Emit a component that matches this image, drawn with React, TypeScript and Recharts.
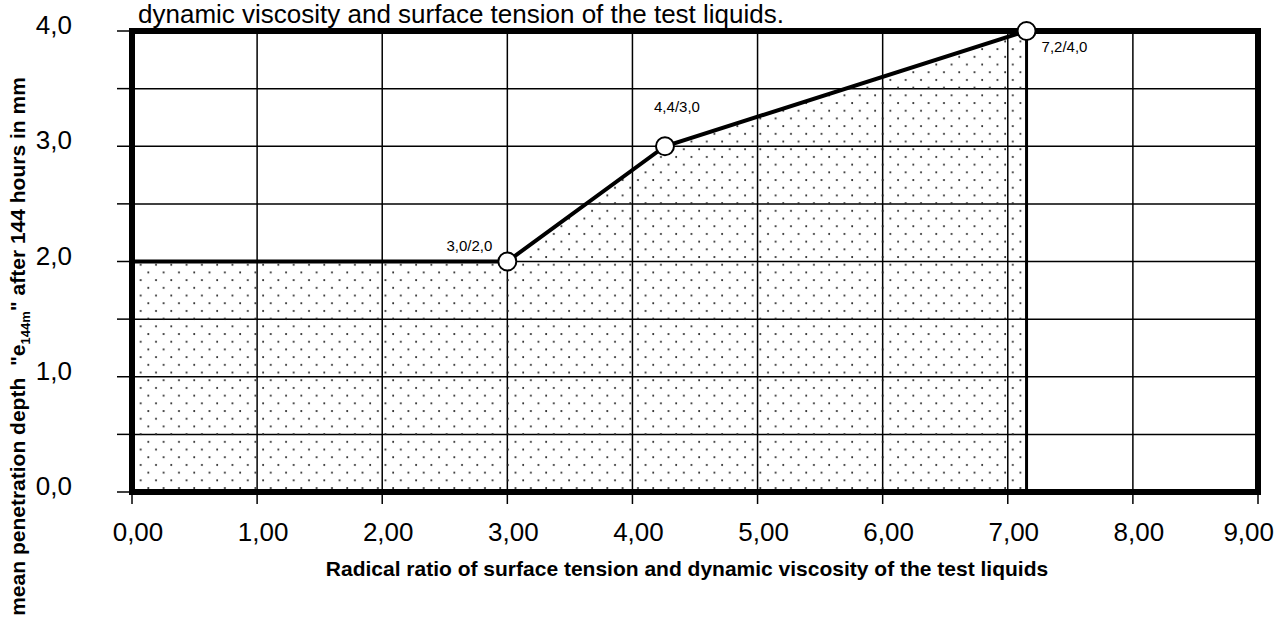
import React from "react";
import {
  ComposedChart,
  Area,
  Line,
  XAxis,
  YAxis,
  CartesianGrid,
  ReferenceArea,
  ReferenceLine,
  LabelList,
  Label,
} from "recharts";

// measured points (x = radical ratio, y = penetration depth in mm)
const ratio = [0, 3.0, 4.26, 7.15];
const depth = [2.0, 2.0, 3.0, 4.0];
const pointLabels = ["", "3,0/2,0", "4,4/3,0", "7,2/4,0"];
const cutoff = 7.15;

const xTicks = [0, 1, 2, 3, 4, 5, 6, 7, 8, 9];
const yTicks = [0, 0.5, 1, 1.5, 2, 2.5, 3, 3.5, 4];

const data = ratio.map((x, i) => ({ x, y: depth[i], label: pointLabels[i] }));

const FONT = '"Liberation Sans", Arial, Helvetica, sans-serif';
// label nudges relative to each marker
const labelOffsets = [
  [0, 0],
  [-38, -16],
  [12, -39],
  [38, 16],
];

const comma = (v: number, d: number) => v.toFixed(d).replace(".", ",");

const XTick = (props: any) => {
  const { x, y, payload, index } = props;
  const last = index === xTicks.length - 1;
  return (
    <text
      x={last ? x + 16 : x + 6}
      y={y}
      dy={35}
      textAnchor={last ? "end" : "middle"}
      fontSize={26}
      fontFamily={FONT}
      fill="#000"
    >
      {comma(payload.value, 2)}
    </text>
  );
};

const YTick = (props: any) => {
  const { x, y, payload } = props;
  if (payload.value % 1 !== 0) return <g />;
  return (
    <text x={x} y={y} dy={3} textAnchor="end" fontSize={26} fontFamily={FONT} fill="#000">
      {comma(payload.value, 1)}
    </text>
  );
};

const YTitle = (props: any) => {
  const { viewBox } = props;
  const cx = viewBox.x + 25;
  const cy = viewBox.y + viewBox.height / 2 + 85;
  return (
    <text
      x={cx}
      y={cy}
      transform={`rotate(-90 ${cx} ${cy})`}
      textAnchor="middle"
      fontSize={21}
      fontWeight="bold"
      fontFamily={FONT}
      fill="#000"
      style={{ whiteSpace: "pre" }}
    >
      <tspan>{'mean penetration depth  "e'}</tspan>
      <tspan fontSize={13} dy={5}>
        144m
      </tspan>
      <tspan dy={-5}>{'" after 144 hours in mm'}</tspan>
    </text>
  );
};

const XTitle = (props: any) => {
  const { viewBox } = props;
  return (
    <text
      x={viewBox.x + viewBox.width / 2 - 8}
      y={viewBox.y + 84}
      textAnchor="middle"
      fontSize={21}
      fontWeight="bold"
      fontFamily={FONT}
      fill="#000"
    >
      Radical ratio of surface tension and dynamic viscosity of the test liquids
    </text>
  );
};

const PointLabel = (props: any) => {
  const { x, y, index, value } = props;
  if (!value) return <g />;
  const [dx, dy] = labelOffsets[index];
  return (
    <text x={x + dx} y={y + dy + 5} textAnchor="middle" fontSize={15} fontFamily={FONT} fill="#000">
      {value}
    </text>
  );
};

const Marker = (props: any) => {
  const { cx, cy, index } = props;
  if (index === 0) return <g key={index} />;
  return <circle key={index} cx={cx} cy={cy} r={9} fill="#fff" stroke="#000" strokeWidth={2} />;
};

export default function App() {
  return (
    <div style={{ position: "absolute", left: 0, top: 0, width: 1278, height: 618 }}>
      <div
        style={{
          position: "absolute",
          left: 138,
          top: 1,
          fontFamily: FONT,
          fontSize: 26,
          lineHeight: "26px",
          whiteSpace: "nowrap",
        }}
      >
        dynamic viscosity and surface tension of the test liquids.
      </div>
      <ComposedChart
        width={1278}
        height={618}
        data={data}
        margin={{ top: 31, right: 20, bottom: 26, left: 0 }}
      >
        <defs>
          <pattern id="dots" patternUnits="userSpaceOnUse" width={15.3} height={15.4}>
            <circle cx={3} cy={3} r={1} fill="#222" />
            <circle cx={10.65} cy={10.7} r={1} fill="#222" />
          </pattern>
        </defs>
        <CartesianGrid stroke="#000" strokeWidth={1.5} />
        <XAxis
          type="number"
          dataKey="x"
          domain={[0, 9]}
          ticks={xTicks}
          interval={0}
          height={100}
          tickSize={12}
          tickMargin={2}
          axisLine={false}
          tickLine={{ stroke: "#000", strokeWidth: 1.5 }}
          tick={<XTick />}
        >
          <Label content={<XTitle />} />
        </XAxis>
        <YAxis
          type="number"
          domain={[0, 4]}
          ticks={yTicks}
          interval={0}
          width={132}
          tickSize={15}
          tickMargin={45}
          axisLine={false}
          tickLine={{ stroke: "#000", strokeWidth: 1.5 }}
          tick={<YTick />}
        >
          <Label content={<YTitle />} />
        </YAxis>
        <Area
          type="linear"
          dataKey="y"
          stroke="none"
          fill="url(#dots)"
          fillOpacity={1}
          isAnimationActive={false}
        />
        <ReferenceLine x={cutoff} stroke="#000" strokeWidth={3} />
        <ReferenceArea x1={0} x2={9} y1={0} y2={4} fill="none" stroke="#000" strokeWidth={6} />
        <Line
          type="linear"
          dataKey="y"
          stroke="#000"
          strokeWidth={4}
          dot={Marker}
          activeDot={false}
          isAnimationActive={false}
        >
          <LabelList dataKey="label" content={PointLabel} />
        </Line>
      </ComposedChart>
    </div>
  );
}
